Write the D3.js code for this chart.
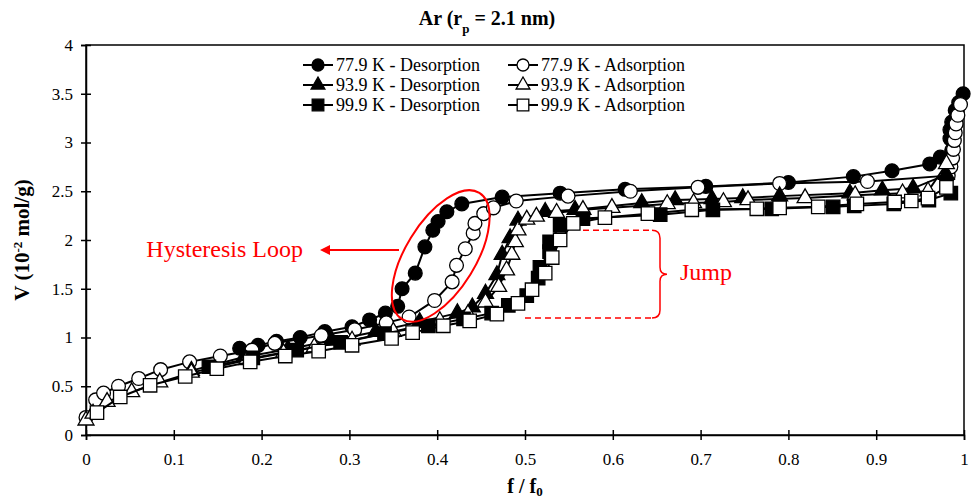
<!DOCTYPE html>
<html>
<head>
<meta charset="utf-8">
<script src="https://cdn.jsdelivr.net/npm/d3@7"></script>
<style>
  body { margin: 0; background: #fff; }
  text { font-family: "Liberation Serif", "Times New Roman", serif; }
</style>
</head>
<body>
<div id="chart"></div>
<script>
// values: [f/f0, V]
const ads779 = [[0.0,0.18],[0.011,0.36],[0.02,0.43],[0.037,0.5],[0.06,0.58],[0.085,0.67],[0.118,0.75],[0.153,0.81],[0.189,0.87],[0.215,0.94],[0.268,1.02],[0.306,1.08],[0.342,1.15],[0.368,1.21],[0.397,1.38],[0.417,1.57],[0.422,1.74],[0.432,1.91],[0.441,2.07],[0.443,2.17],[0.453,2.27],[0.464,2.33],[0.49,2.40],[0.549,2.45],[0.62,2.50],[0.697,2.54],[0.79,2.58],[0.89,2.6],[0.982,2.66],[0.985,2.75],[0.987,2.84],[0.988,2.93],[0.989,3.02],[0.99,3.1],[0.991,3.19],[0.993,3.28],[0.996,3.39]];
const des779 = [[0.999,3.5],[0.994,3.41],[0.99,3.33],[0.986,3.21],[0.984,3.13],[0.984,3.04],[0.986,2.92],[0.973,2.85],[0.961,2.78],[0.918,2.71],[0.874,2.65],[0.8,2.59],[0.706,2.55],[0.614,2.52],[0.54,2.48],[0.474,2.44],[0.428,2.37],[0.411,2.29],[0.401,2.19],[0.395,2.10],[0.386,1.93],[0.375,1.66],[0.36,1.5],[0.355,1.32],[0.341,1.25],[0.323,1.18],[0.303,1.11],[0.272,1.06],[0.244,1.0],[0.217,0.96],[0.196,0.92],[0.175,0.89]];
const ads939 = [[0.0,0.15],[0.008,0.22],[0.024,0.34],[0.052,0.44],[0.084,0.54],[0.12,0.64],[0.183,0.77],[0.225,0.84],[0.26,0.9],[0.303,0.97],[0.35,1.06],[0.403,1.17],[0.435,1.24],[0.455,1.36],[0.47,1.52],[0.479,1.69],[0.485,1.85],[0.489,1.98],[0.492,2.1],[0.502,2.21],[0.513,2.24],[0.536,2.28],[0.566,2.31],[0.599,2.33],[0.662,2.37],[0.692,2.38],[0.726,2.39],[0.754,2.41],[0.819,2.43],[0.876,2.46],[0.93,2.48],[0.959,2.5],[0.98,2.78]];
const des939 = [[0.98,2.67],[0.942,2.53],[0.907,2.51],[0.87,2.48],[0.79,2.45],[0.748,2.43],[0.713,2.42],[0.671,2.41],[0.633,2.38],[0.557,2.31],[0.523,2.29],[0.492,2.2],[0.483,2.02],[0.474,1.85],[0.468,1.64],[0.455,1.45],[0.44,1.31],[0.423,1.25],[0.38,1.16],[0.33,1.06],[0.28,0.97],[0.23,0.88],[0.18,0.8],[0.12,0.66]];
const ads999 = [[0.0125,0.23],[0.039,0.39],[0.073,0.51],[0.113,0.6],[0.149,0.68],[0.187,0.75],[0.227,0.81],[0.265,0.86],[0.303,0.92],[0.348,0.99],[0.372,1.05],[0.407,1.12],[0.437,1.17],[0.468,1.24],[0.492,1.35],[0.508,1.49],[0.523,1.66],[0.531,1.82],[0.54,2.0],[0.555,2.17],[0.591,2.23],[0.64,2.27],[0.69,2.31],[0.764,2.32],[0.79,2.33],[0.834,2.34],[0.878,2.37],[0.921,2.39],[0.94,2.4],[0.959,2.43],[0.98,2.54]];
const des999 = [[0.985,2.48],[0.96,2.41],[0.92,2.37],[0.875,2.35],[0.851,2.34],[0.781,2.32],[0.714,2.31],[0.654,2.26],[0.566,2.22],[0.54,2.15],[0.528,1.98],[0.528,1.88],[0.517,1.72],[0.515,1.61],[0.502,1.43],[0.481,1.33],[0.462,1.25],[0.43,1.19],[0.39,1.12],[0.34,1.04],[0.29,0.95],[0.24,0.87],[0.19,0.79],[0.14,0.7]];

const seriesNames = ["77.9 K - Desorption", "77.9 K - Adsorption", "93.9 K - Desorption", "93.9 K - Adsorption", "99.9 K - Desorption", "99.9 K - Adsorption"];
const xTicks = [0, 0.1, 0.2, 0.3, 0.4, 0.5, 0.6, 0.7, 0.8, 0.9, 1];
const yTicks = [0, 0.5, 1, 1.5, 2, 2.5, 3, 3.5, 4];

const width = 974, height = 504;
const margin = { top: 45, right: 10, bottom: 69, left: 86 };

const x = d3.scaleLinear().domain([0, 1]).range([margin.left, width - margin.right]);
const y = d3.scaleLinear().domain([0, 4]).range([height - margin.bottom, margin.top]);

const svg = d3.select("#chart").append("svg")
    .attr("width", width)
    .attr("height", height);

// plot frame
svg.append("rect")
    .attr("x", x(0)).attr("y", y(4))
    .attr("width", x(1) - x(0)).attr("height", y(0) - y(4))
    .attr("fill", "none").attr("stroke", "#000").attr("stroke-width", 1.5);

let xAxis = d3.axisBottom(x).tickValues(xTicks).tickSize(5).tickFormat(d => d);
let gx = svg.append("g")
    .attr("transform", `translate(0, ${y(0)})`)
    .call(xAxis);
gx.select(".domain").attr("stroke-width", 1.5);
gx.selectAll(".tick line").attr("y1", -5).attr("stroke-width", 1.5);
gx.selectAll(".tick text").attr("y", 18).attr("font-size", 17).attr("font-family", "Liberation Serif");

let yAxis = d3.axisLeft(y).tickValues(yTicks).tickSize(5).tickFormat(d => d);
let gy = svg.append("g")
    .attr("transform", `translate(${x(0)}, 0)`)
    .call(yAxis);
gy.select(".domain").attr("stroke-width", 1.5);
gy.selectAll(".tick line").attr("x2", 5).attr("x1", -5).attr("stroke-width", 1.5);
gy.selectAll(".tick text").attr("x", -13).attr("font-size", 17).attr("font-family", "Liberation Serif");

// series
const shapes = [d3.symbolCircle, d3.symbolCircle, d3.symbolTriangle, d3.symbolTriangle, d3.symbolSquare, d3.symbolSquare];
const sizes = [150, 150, 110, 110, 180, 180];
const fills = ["#000", "#fff", "#000", "#fff", "#000", "#fff"];
const allData = [des779, ads779, des939, ads939, des999, ads999];

const line = d3.line().x(d => x(d[0])).y(d => y(d[1]));

allData.forEach((data, i) => {
    let g = svg.append("g");
    g.append("path")
        .attr("d", line(data))
        .attr("fill", "none")
        .attr("stroke", "#000")
        .attr("stroke-width", 2);
    g.selectAll("path.m")
        .data(data)
        .join("path")
        .attr("class", "m")
        .attr("d", d3.symbol(shapes[i], sizes[i]))
        .attr("transform", d => `translate(${x(d[0])}, ${y(d[1])})`)
        .attr("fill", fills[i])
        .attr("stroke", "#000")
        .attr("stroke-width", 1.3);
});

// legend
const legCols = [303, 508];
const legRows = [65, 85, 105];
seriesNames.forEach((name, i) => {
    let lx = legCols[i % 2], ly = legRows[Math.floor(i / 2)];
    let g = svg.append("g").attr("transform", `translate(${lx}, ${ly})`);
    g.append("line").attr("x1", 0).attr("x2", 30).attr("stroke", "#000").attr("stroke-width", 2);
    g.append("path")
        .attr("d", d3.symbol(shapes[i], sizes[i] * 0.75))
        .attr("transform", "translate(15, 0)")
        .attr("fill", fills[i]).attr("stroke", "#000").attr("stroke-width", 1.3);
    g.append("text")
        .attr("x", 33).attr("y", 6)
        .attr("font-size", 18)
        .text(name);
});

// title
let title = svg.append("text")
    .attr("x", 487).attr("y", 25)
    .attr("text-anchor", "middle")
    .attr("font-size", 20).attr("font-weight", "bold");
title.append("tspan").text("Ar (r");
title.append("tspan").attr("baseline-shift", "sub").attr("font-size", 13).text("p");
title.append("tspan").text(" = 2.1 nm)");

// axis titles
let xt = svg.append("text")
    .attr("x", x(0.5)).attr("y", 493)
    .attr("text-anchor", "middle")
    .attr("font-size", 20).attr("font-weight", "bold");
xt.append("tspan").text("f / f");
xt.append("tspan").attr("baseline-shift", "-3").attr("font-size", 13).text("0");

let yt = svg.append("text")
    .attr("transform", `translate(29, ${y(2)}) rotate(-90)`)
    .attr("text-anchor", "middle")
    .attr("font-size", 21).attr("font-weight", "bold");
yt.append("tspan").text("V (10");
yt.append("tspan").attr("baseline-shift", "super").attr("font-size", 13).text("-2");
yt.append("tspan").text(" mol/g)");

// annotations
const red = "#ff0000";
svg.append("ellipse")
    .attr("cx", 0).attr("cy", 0).attr("rx", 74).attr("ry", 35)
    .attr("transform", `translate(${x(0.404)}, ${y(1.836)}) rotate(-58.5)`)
    .attr("fill", "none").attr("stroke", red).attr("stroke-width", 2);

svg.append("defs").append("marker")
    .attr("id", "arr").attr("viewBox", "0 0 10 10")
    .attr("refX", 8).attr("refY", 5)
    .attr("markerWidth", 5).attr("markerHeight", 5)
    .attr("orient", "auto")
    .append("path").attr("d", "M0,0 L10,5 L0,10 Z").attr("fill", red);

svg.append("line")
    .attr("x1", 399).attr("y1", 250).attr("x2", 322).attr("y2", 250)
    .attr("stroke", red).attr("stroke-width", 2)
    .attr("marker-end", "url(#arr)");

svg.append("text")
    .attr("x", 303).attr("y", 257)
    .attr("text-anchor", "end")
    .attr("font-size", 24).attr("fill", red)
    .text("Hysteresis Loop");

// jump bracket
const yTop = y(2.1), yBot = y(1.2), bx = 660;
svg.append("line").attr("x1", 583).attr("x2", bx - 8).attr("y1", yTop).attr("y2", yTop)
    .attr("stroke", red).attr("stroke-width", 1.5).attr("stroke-dasharray", "6,4");
svg.append("line").attr("x1", 525).attr("x2", bx - 8).attr("y1", yBot).attr("y2", yBot)
    .attr("stroke", red).attr("stroke-width", 1.5).attr("stroke-dasharray", "6,4");
const yMid = (yTop + yBot) / 2;
svg.append("path")
    .attr("d", `M${bx - 8},${yTop} Q${bx},${yTop} ${bx},${yTop + 8} L${bx},${yMid - 7} Q${bx},${yMid} ${bx + 7},${yMid} Q${bx},${yMid} ${bx},${yMid + 7} L${bx},${yBot - 8} Q${bx},${yBot} ${bx - 8},${yBot}`)
    .attr("fill", "none").attr("stroke", red).attr("stroke-width", 1.5);

svg.append("text")
    .attr("x", 680).attr("y", 280)
    .attr("font-size", 24).attr("fill", red)
    .text("Jump");
</script>
</body>
</html>
